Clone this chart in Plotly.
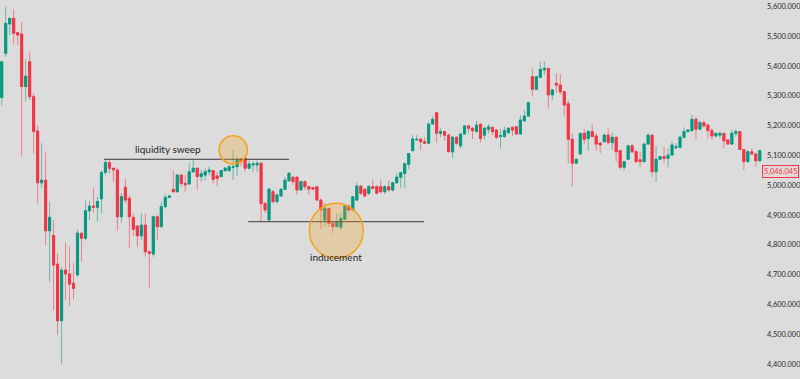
import plotly.graph_objects as go

# candle sequence (one per period, left to right)
candle_index = list(range(191))

open_ = [5294, 5443, 5541, 5560, 5512, 5507, 5331, 5414, 5297, 5182,
         5008, 5017, 4847, 4831, 4735, 4545, 4715, 4702, 4671, 4699,
         4839, 4822, 4914, 4930, 4926, 4954, 5043, 5076, 5057, 5051,
         4894, 4993, 4956, 4892, 4863, 4830, 4866, 4777, 4769, 4894,
         4861, 4928, 4959, 4986, 4978, 5034, 5006, 5004, 5045, 5057,
         5029, 5034, 5045, 5049, 5031, 5029, 5049, 5049, 5060, 5062,
         5087, 5090, 5057, 5068, 5068, 5074, 4939, 4883, 4978, 4945,
         4964, 4986, 5015, 5027, 5027, 4984, 5012, 4995, 4992, 4995,
         4950, 4883, 4922, 4872, 4861, 4859, 4886, 4930, 4917, 4950,
         4997, 4986, 4973, 4995, 4995, 4995, 4978, 4995, 4984, 5008,
         5027, 5039, 5070, 5116, 5152, 5154, 5146, 5141, 5205, 5243,
         5174, 5180, 5168, 5112, 5161, 5132, 5172, 5199, 5191, 5180,
         5205, 5168, 5188, 5194, 5185, 5163, 5163, 5176, 5194, 5196,
         5172, 5216, 5232, 5364, 5322, 5362, 5387, 5392, 5303, 5342,
         5336, 5314, 5273, 5154, 5074, 5105, 5174, 5157, 5180, 5165,
         5141, 5146, 5168, 5143, 5161, 5116, 5060, 5087, 5132, 5112,
         5085, 5079, 5138, 5168, 5045, 5087, 5096, 5090, 5101, 5126,
         5127, 5161, 5180, 5183, 5221, 5188, 5210, 5202, 5183, 5165,
         5168, 5174, 5152, 5138, 5174, 5180, 5120, 5079, 5112, 5105,
         5082]

high = [5414, 5599, 5560, 5590, 5512, 5547, 5423, 5448, 5308, 5202,
        5141, 5109, 4945, 4883, 4772, 4727, 4807, 4794, 4738, 4852,
        4839, 4948, 4948, 4990, 4961, 5049, 5087, 5087, 5057, 5057,
        4973, 5021, 4964, 4906, 4866, 4906, 4906, 4777, 4894, 4900,
        4945, 4970, 4966, 5049, 5038, 5036, 5034, 5074, 5085, 5058,
        5053, 5057, 5062, 5051, 5045, 5051, 5062, 5068, 5118, 5096,
        5090, 5090, 5082, 5079, 5082, 5075, 4941, 4990, 4984, 4973,
        4990, 5027, 5043, 5029, 5029, 5015, 5015, 4996, 4993, 4997,
        4956, 4941, 4924, 4878, 4906, 4908, 4934, 4934, 4964, 5008,
        4998, 4990, 5001, 5020, 5001, 5020, 5001, 5015, 5012, 5040,
        5043, 5076, 5107, 5168, 5168, 5161, 5161, 5213, 5230, 5247,
        5191, 5183, 5174, 5165, 5163, 5174, 5202, 5202, 5194, 5216,
        5206, 5196, 5205, 5199, 5188, 5188, 5196, 5194, 5196, 5199,
        5236, 5252, 5280, 5392, 5366, 5414, 5414, 5393, 5322, 5376,
        5373, 5315, 5284, 5174, 5088, 5176, 5188, 5185, 5204, 5175,
        5146, 5174, 5191, 5176, 5162, 5116, 5080, 5135, 5138, 5118,
        5112, 5140, 5174, 5169, 5132, 5098, 5129, 5124, 5146, 5141,
        5168, 5194, 5188, 5236, 5228, 5216, 5216, 5205, 5191, 5176,
        5180, 5176, 5154, 5185, 5188, 5180, 5121, 5118, 5124, 5107,
        5118]

low = [5266, 5431, 5504, 5471, 5470, 5096, 5280, 5286, 5107, 4939,
       4990, 4799, 4676, 4581, 4497, 4402, 4615, 4595, 4617, 4693,
       4743, 4814, 4883, 4906, 4878, 4906, 5034, 5040, 5012, 4847,
       4874, 4939, 4788, 4830, 4794, 4816, 4760, 4654, 4760, 4816,
       4856, 4924, 4957, 4978, 4975, 4993, 4978, 5001, 5042, 4986,
       5012, 5017, 5034, 5006, 4997, 5026, 5045, 5045, 5017, 5031,
       5064, 5045, 5053, 5045, 5045, 4878, 4906, 4881, 4939, 4939,
       4961, 4984, 5012, 5001, 4967, 4982, 4984, 4967, 4984, 4949,
       4855, 4863, 4861, 4839, 4859, 4850, 4883, 4911, 4911, 4949,
       4967, 4959, 4967, 4984, 4970, 4973, 4970, 4978, 4978, 5006,
       4990, 4990, 5054, 5112, 5149, 5118, 5140, 5138, 5202, 5143,
       5161, 5149, 5112, 5090, 5135, 5124, 5170, 5174, 5154, 5176,
       5143, 5152, 5174, 5168, 5154, 5124, 5161, 5172, 5165, 5168,
       5168, 5213, 5230, 5299, 5320, 5359, 5370, 5258, 5286, 5310,
       5303, 5230, 5074, 4995, 5072, 5101, 5138, 5116, 5161, 5116,
       5107, 5143, 5138, 5118, 5079, 5053, 5049, 5085, 5109, 5076,
       5060, 5076, 5137, 5027, 5012, 5085, 5074, 5060, 5098, 5120,
       5124, 5157, 5176, 5180, 5154, 5183, 5194, 5157, 5152, 5162,
       5157, 5124, 5135, 5135, 5163, 5118, 5051, 5076, 5101, 5062,
       5079]

close = [5414, 5543, 5560, 5510, 5504, 5331, 5366, 5297, 5180, 5008,
         5017, 4847, 4892, 4732, 4545, 4715, 4702, 4668, 4654, 4839,
         4822, 4914, 4930, 4926, 4945, 5043, 5076, 5057, 5051, 4894,
         4961, 4950, 4894, 4852, 4830, 4866, 4777, 4772, 4894, 4861,
         4928, 4959, 4964, 4978, 5034, 5006, 5001, 5045, 5057, 5029,
         5038, 5045, 5051, 5020, 5023, 5049, 5057, 5062, 5062, 5085,
         5079, 5057, 5071, 5071, 5074, 4938, 4917, 4987, 4945, 4967,
         4986, 5017, 5040, 5012, 4984, 5012, 4995, 4987, 4987, 4950,
         4917, 4922, 4872, 4861, 4878, 4889, 4930, 4917, 4961, 4997,
         4973, 4964, 4995, 4990, 4973, 4978, 4995, 4984, 5008, 5027,
         5042, 5072, 5106, 5155, 5154, 5146, 5141, 5205, 5221, 5174,
         5180, 5168, 5112, 5161, 5141, 5172, 5199, 5191, 5183, 5202,
         5157, 5191, 5196, 5180, 5161, 5167, 5183, 5191, 5185, 5172,
         5219, 5232, 5277, 5322, 5364, 5389, 5392, 5303, 5320, 5336,
         5314, 5269, 5154, 5074, 5087, 5174, 5154, 5180, 5163, 5138,
         5135, 5168, 5143, 5161, 5112, 5060, 5079, 5132, 5112, 5079,
         5079, 5138, 5168, 5045, 5087, 5096, 5090, 5101, 5135, 5129,
         5161, 5180, 5185, 5221, 5188, 5210, 5199, 5183, 5165, 5174,
         5174, 5149, 5138, 5174, 5180, 5120, 5079, 5112, 5105, 5082,
         5116]

price_ticks = [4400, 4500, 4600, 4700, 4800, 4900, 5000, 5100, 5200, 5300, 5400, 5500, 5600]
price_tick_labels = ["4,400.000", "4,500.000", "4,600.000", "4,700.000", "4,800.000",
                     "4,900.000", "5,000.000", "5,100.000", "5,200.000", "5,300.000",
                     "5,400.000", "5,500.000", "5,600.000"]
last_price = 5046.045
last_price_label = "5,046.045"

sweep_level = 5087
inducement_level = 4877.5

BG = "#dcdcdc"
GREEN = "#089981"
RED = "#f23645"
GREEN_WICK = "rgba(8,153,129,0.55)"
RED_WICK = "rgba(242,54,69,0.55)"

# body extents (for drawing solid bodies on top of the lighter wicks)
body_top = [max(o, c) for o, c in zip(open_, close)]
body_bottom = [min(o, c) for o, c in zip(open_, close)]

fig = go.Figure()
# wicks (lighter, as in the anti-aliased reference)
fig.add_trace(go.Candlestick(
    x=candle_index, open=open_, high=high, low=low, close=close,
    increasing=dict(line=dict(color=GREEN_WICK, width=1), fillcolor=GREEN),
    decreasing=dict(line=dict(color=RED_WICK, width=1), fillcolor=RED),
    whiskerwidth=0, hoverinfo="skip", showlegend=False,
))
# solid bodies
fig.add_trace(go.Candlestick(
    x=candle_index, open=open_, high=body_top, low=body_bottom, close=close,
    increasing=dict(line=dict(color=GREEN, width=0.8), fillcolor=GREEN),
    decreasing=dict(line=dict(color=RED, width=0.8), fillcolor=RED),
    whiskerwidth=0, hoverinfo="skip", showlegend=False,
))

shapes = [
    dict(type="line", xref="x", yref="y", x0=25.6, x1=72.0, y0=sweep_level, y1=sweep_level,
         line=dict(color="#3a3a3a", width=1)),
    dict(type="line", xref="x", yref="y", x0=61.8, x1=105.8, y0=inducement_level, y1=inducement_level,
         line=dict(color="#3a3a3a", width=1)),
    dict(type="circle", xref="x", yref="y", x0=54.5, x1=61.55, y0=5071, y1=5166,
         fillcolor="rgba(245,166,35,0.28)", line=dict(color="#f5a21b", width=1.5)),
    dict(type="circle", xref="x", yref="y", x0=77.1, x1=90.6, y0=4754.7, y1=4939.3,
         fillcolor="rgba(245,166,35,0.28)", line=dict(color="#f5a21b", width=1.5)),
]

annotations = [
    dict(x=41.7, y=5120.5, xref="x", yref="y", text="liquidity sweep", showarrow=False,
         font=dict(family="Lato", size=10, color="#1e1e1e")),
    dict(x=83.7, y=4758, xref="x", yref="y", text="inducement", showarrow=False,
         font=dict(family="Lato", size=10, color="#1e1e1e")),
    dict(x=1, xref="paper", y=last_price, yref="y", text=last_price_label, showarrow=False,
         xanchor="left", yanchor="middle", xshift=0,
         font=dict(family="Lato", size=7.4, color=RED),
         bgcolor="#e3d8d8", bordercolor=RED, borderwidth=1, borderpad=1),
]

fig.update_layout(
    width=800, height=379,
    margin=dict(l=0, r=38, t=0, b=0, autoexpand=False),
    paper_bgcolor=BG, plot_bgcolor=BG,
    boxgap=0.25, boxmode="overlay",
    shapes=shapes, annotations=annotations,
    xaxis=dict(range=[-0.426, 190.55], visible=False, rangeslider=dict(visible=False),
               showgrid=False, zeroline=False, automargin=False),
    yaxis=dict(range=[4349.6, 5621.5], side="right", tickvals=price_ticks,
               ticktext=price_tick_labels, showgrid=False, zeroline=False,
               showline=False, ticks="", ticklabelstandoff=4, automargin=False,
               ticklabeloverflow="allow",
               tickfont=dict(family="Lato", size=7.4, color="#2a2a2a")),
)

fig.write_html("out.html")
